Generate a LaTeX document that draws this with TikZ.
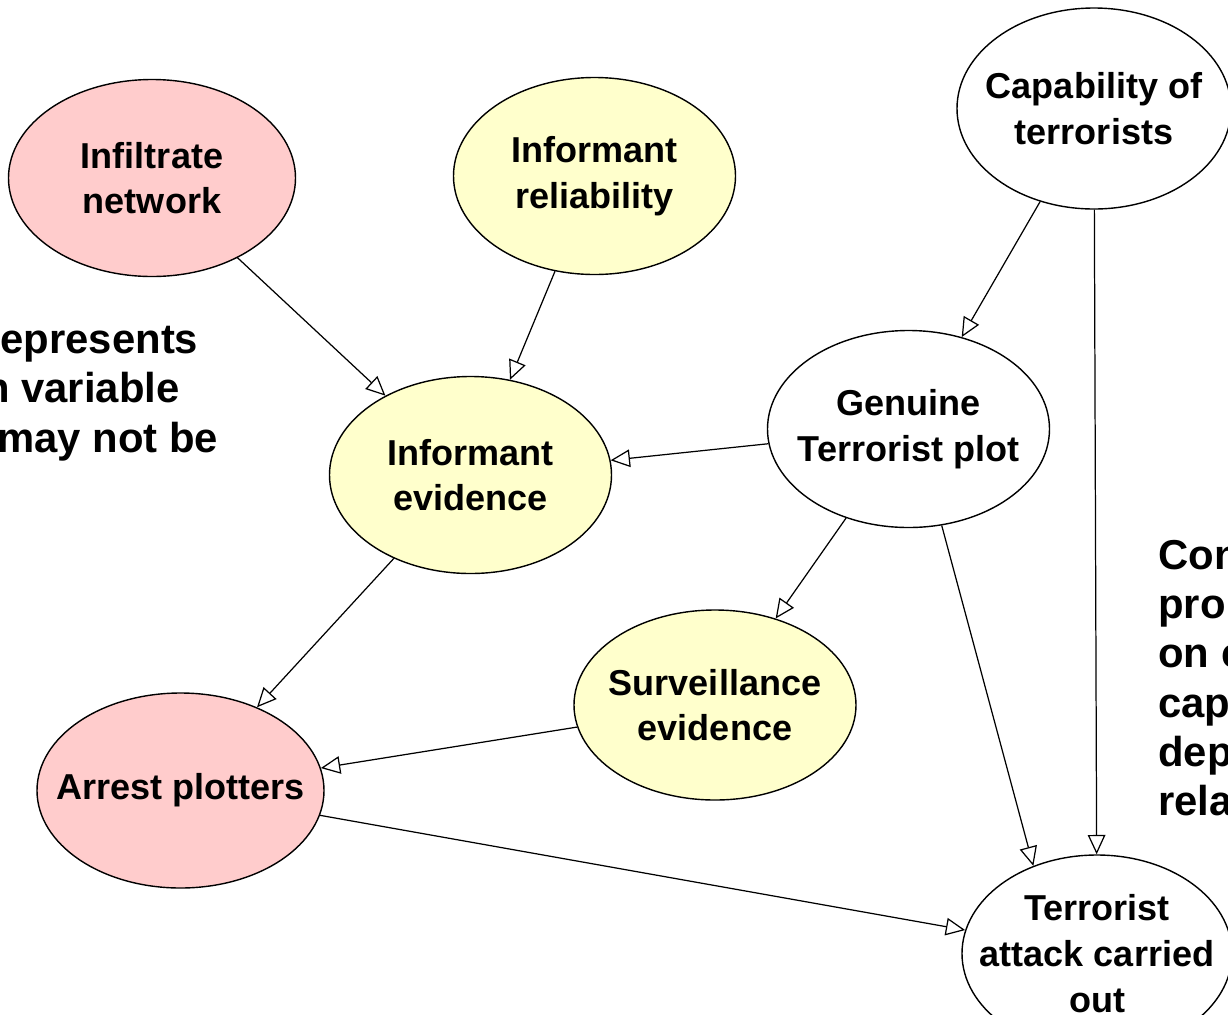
\documentclass[tikz,border=0pt]{standalone}
\usepackage{fontspec}
\setmainfont{Liberation Sans}
\usetikzlibrary{arrows.meta,shapes.geometric}
\definecolor{rose}{RGB}{255,204,204}
\definecolor{cream}{RGB}{255,255,204}
\tikzset{
  >={Triangle[open,length=11pt,width=10pt]},
  var/.style={ellipse,draw=black,line width=0.8pt,fill=#1,
    minimum width=5.64cm,minimum height=3.94cm,inner xsep=-0.6cm,inner ysep=0pt,
    align=center,font=\fontsize{20.5}{26}\selectfont\bfseries},
  var/.default=white,
  link/.style={->,line width=0.7pt},
  note/.style={align=left,inner sep=0pt,anchor=north west,
    font=\fontsize{23.8}{28}\selectfont\bfseries},
}
\begin{document}
\begin{tikzpicture}
  \useasboundingbox (0,0) rectangle (24.56,-20.28);
  \fill[white] (0,0) rectangle (24.56,-20.28);
  \clip (0,0) rectangle (24.56,-20.28);
  % variables
  \node[var=rose,minimum width=5.74cm] (infil) at (3.04,-3.56) {Infiltrate\\network};
  \node[var=cream] (rel) at (11.89,-3.52) {Informant\\reliability};
  \node[var,minimum width=5.48cm,minimum height=4.02cm] (cap) at (21.88,-2.17) {Capability of\\terrorists};
  \node[var] (gen) at (18.17,-8.58) {Genuine\\Terrorist plot};
  \node[var=cream] (infev) at (9.41,-9.50) {Informant\\evidence};
  \node[var=cream,minimum height=3.8cm] (surv) at (14.30,-14.10) {Surveillance\\evidence};
  \node[var=rose,minimum width=5.74cm,minimum height=3.9cm] (arrest) at (3.61,-15.81) {Arrest plotters};
  \node[var,minimum width=5.4cm] (attack) at (21.94,-19.07) {Terrorist\\attack carried\\out};
  % links
  \foreach \a/\b in {infil/infev,rel/infev,cap/gen,cap/attack,gen/infev,gen/surv,
    infev/arrest,surv/arrest,arrest/attack}
    \draw[link] (\a) -- (\b);
  \draw[link] (gen.-71) -- (attack.126);
  % side notes
  \node[note] (lnote) at (-0.32,-6.52) {represents\\n variable\\\hspace*{0.26cm}may not be};
  \node[note] (rnote) at (23.16,-10.8) {Con\\pro\\on c\\cap\\dep\\rela};
\end{tikzpicture}
\end{document}
